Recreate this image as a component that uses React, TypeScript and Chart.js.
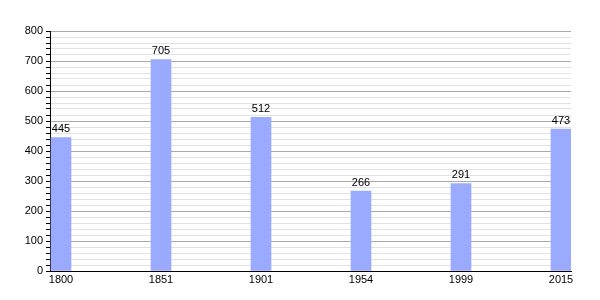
import React, { useEffect, useRef } from "react";
import { Chart, registerables } from "chart.js";

Chart.register(...registerables);

const years = ["1800", "1851", "1901", "1954", "1999", "2015"];
const population = [445, 705, 512, 266, 291, 473];
const yMax = 800;

const valueLabels = {
  id: "valueLabels",
  afterDatasetsDraw(chart: any) {
    const ctx = chart.ctx;
    const meta = chart.getDatasetMeta(0);
    ctx.save();
    ctx.font = "11px 'Liberation Sans', Arial, sans-serif";
    ctx.fillStyle = "#000";
    ctx.textAlign = "center";
    ctx.textBaseline = "bottom";
    meta.data.forEach((bar: any, i: number) => {
      ctx.fillText(String(population[i]), bar.x, bar.y - 3);
    });
    ctx.restore();
  },
};

export default function App() {
  const ref = useRef<HTMLCanvasElement>(null);
  useEffect(() => {
    document.body.style.margin = "0";
    const chart = new Chart(ref.current!, {
      type: "bar",
      data: {
        datasets: [
          {
            data: population.map((v, i) => ({ x: i + 0.11, y: v })),
            backgroundColor: "#99aaff",
            barThickness: 20,
          },
        ],
      },
      options: {
        responsive: false,
        animation: false,
        layout: { padding: { top: 31, right: 29, left: 0, bottom: 0 } },
        plugins: { legend: { display: false }, tooltip: { enabled: false } },
        scales: {
          x: {
            type: "linear",
            offset: false,
            min: 0,
            max: 5.21,
            afterFit(scale: any) {
              scale.height = 29;
            },
            afterBuildTicks(scale: any) {
              scale.ticks = years.map((_, i) => ({ value: i + 0.11 }));
            },
            grid: { display: false, drawTicks: false },
            border: { display: true, color: "#000", width: 1 },
            ticks: {
              autoSkip: false,
              maxRotation: 0,
              padding: 2,
              color: "#000",
              font: { family: "'Liberation Sans', Arial, sans-serif", size: 11 },
              callback: (_v: any, i: number) => years[i],
            },
          },
          y: {
            min: 0,
            max: yMax,
            afterFit(scale: any) {
              scale.width = 50;
            },
            grid: {
              color: (c: any) => (c.tick && c.tick.value % 100 === 0 ? "#aaaaaa" : "#e2e2e2"),
              tickColor: "#000",
              tickLength: 4,
              drawTicks: true,
            },
            border: { display: true, color: "#000", width: 1 },
            ticks: {
              stepSize: 20,
              autoSkip: false,
              padding: 3,
              color: "#000",
              font: { family: "'Liberation Sans', Arial, sans-serif", size: 11 },
              callback: (v: any) => (v % 100 === 0 ? String(v) : ""),
            },
          },
        },
      },
      plugins: [valueLabels],
    });
    return () => chart.destroy();
  }, []);
  return <canvas ref={ref} width={600} height={300} />;
}
